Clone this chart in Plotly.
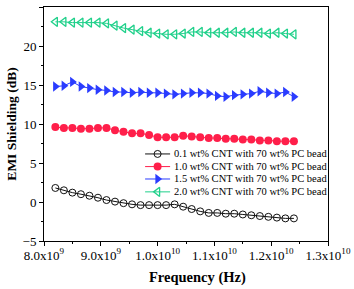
import plotly.graph_objects as go

freq = [8.2e9 + i * 0.15e9 for i in range(29)]

cnt01 = [1.8, 1.5, 1.2, 1.0, 0.8, 0.55, 0.25, 0.05, -0.15, -0.3, -0.4, -0.4, -0.4, -0.4, -0.3,
         -0.6, -0.9, -1.2, -1.4, -1.4, -1.5, -1.5, -1.6, -1.7, -1.8, -1.9, -2.0, -2.1, -2.1]
cnt10 = [9.6, 9.5, 9.5, 9.4, 9.4, 9.5, 9.5, 9.2, 9.0, 8.8, 8.8, 8.6, 8.3, 8.3, 8.3,
         8.5, 8.4, 8.3, 8.2, 8.2, 8.1, 8.1, 8.0, 8.0, 7.9, 7.9, 7.8, 7.8, 7.8]
cnt15 = [14.8, 14.9, 15.4, 14.8, 14.6, 14.4, 14.3, 14.1, 14.1, 14.0, 14.1, 14.0, 14.0, 13.9, 13.8,
         13.9, 14.0, 14.0, 13.9, 13.6, 13.5, 13.7, 13.8, 13.9, 14.2, 14.0, 13.9, 14.1, 13.5]
cnt20 = [23.1, 23.1, 23.0, 23.0, 23.0, 23.0, 22.9, 22.6, 22.3, 22.1, 21.9, 21.7, 21.6, 21.5, 21.5,
         21.6, 21.8, 21.8, 21.7, 21.7, 21.7, 21.8, 21.7, 21.7, 21.7, 21.6, 21.7, 21.6, 21.5]

names = ["0.1 wt% CNT with 70 wt% PC bead",
         "1.0 wt% CNT with 70 wt% PC bead",
         "1.5 wt% CNT with 70 wt% PC bead",
         "2.0 wt% CNT with 70 wt% PC bead"]

xtick_vals = [8.0e9, 9.0e9, 1.0e10, 1.1e10, 1.2e10, 1.3e10]
xtick_text = ["8.0x10<sup>9</sup>", "9.0x10<sup>9</sup>", "1.0x10<sup>10</sup>",
              "1.1x10<sup>10</sup>", "1.2x10<sup>10</sup>", "1.3x10<sup>10</sup>"]
ytick_vals = [-5, 0, 5, 10, 15, 20, 25]

series = [cnt01, cnt10, cnt15, cnt20]
styles = [
    dict(line=dict(color="#111111", width=1),
         marker=dict(symbol="circle-open", size=7, color="#111111", line=dict(width=1))),
    dict(line=dict(color="#ff1f4a", width=1),
         marker=dict(symbol="circle", size=8, color="#ff1f4a")),
    dict(line=dict(color="#2a3cff", width=1),
         marker=dict(symbol="triangle-right", size=9, color="#2a3cff")),
    dict(line=dict(color="#1fd08a", width=1),
         marker=dict(symbol="triangle-left-open", size=8, color="#1fd08a", line=dict(width=1.3))),
]

# legend key layout (fractions of the plot area)
key_x = [0.356, 0.400, 0.444]
key_rows = [0.372, 0.318, 0.265, 0.210]
text_x = 0.451

font = "Liberation Serif, Times New Roman, serif"

fig = go.Figure()
for vals, name, st in zip(series, names, styles):
    fig.add_trace(go.Scatter(x=freq, y=vals, name=name, mode="lines+markers",
                             line=st["line"], marker=st["marker"], showlegend=False))

for row, name, st in zip(key_rows, names, styles):
    fig.add_trace(go.Scatter(x=[key_x[0], key_x[2]], y=[row, row], mode="lines",
                             line=st["line"], xaxis="x2", yaxis="y2", showlegend=False,
                             hoverinfo="skip"))
    fig.add_trace(go.Scatter(x=[key_x[1]], y=[row], mode="markers",
                             marker=st["marker"], xaxis="x2", yaxis="y2", showlegend=False,
                             hoverinfo="skip"))
    fig.add_annotation(xref="paper", yref="paper", x=text_x, y=row, text=name,
                       showarrow=False, xanchor="left", yanchor="middle",
                       font=dict(family=font, size=10.5, color="black"))

fig.add_annotation(xref="paper", yref="paper", x=0.539, y=-0.155, text="<b>Frequency (Hz)</b>",
                   showarrow=False, xanchor="center", yanchor="middle",
                   font=dict(family=font, size=14.5, color="black"))

fig.update_layout(
    width=354, height=289,
    margin=dict(l=44, r=26, t=7, b=48),
    paper_bgcolor="white", plot_bgcolor="white",
    font=dict(family=font, size=13, color="black"),
    showlegend=False,
    xaxis=dict(range=[8.0e9, 1.3e10], tickvals=xtick_vals, ticktext=xtick_text,
               showgrid=False, zeroline=False, showline=True, linecolor="black", linewidth=1,
               mirror=True, ticks="outside", ticklen=4, tickcolor="black",
               ticklabelstandoff=-2, automargin=False,
               minor=dict(ticks="outside", ticklen=2, dtick=5e8, tickcolor="black")),
    yaxis=dict(range=[-5, 25], tickvals=ytick_vals,
               showgrid=False, zeroline=False, showline=True, linecolor="black", linewidth=1,
               mirror=True, ticks="outside", ticklen=4, tickcolor="black", automargin=False,
               minor=dict(ticks="outside", ticklen=2, dtick=2.5, tickcolor="black"),
               title=dict(text="<b>EMI Shielding (dB)</b>", font=dict(size=13.5), standoff=2)),
    xaxis2=dict(range=[0, 1], overlaying="x", visible=False, anchor="y2"),
    yaxis2=dict(range=[0, 1], overlaying="y", visible=False, anchor="x2"),
)

fig.write_html("out.html", config={"displayModeBar": False},
               post_script="document.body.style.margin='0px';")
